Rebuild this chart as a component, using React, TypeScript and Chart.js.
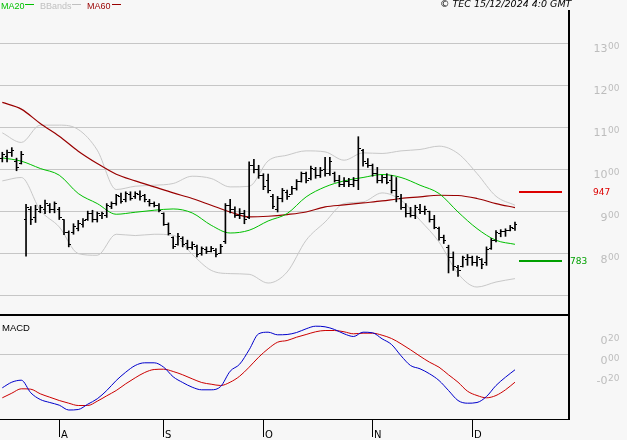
import React, { useEffect, useRef } from 'react';
import { Chart, registerables } from 'chart.js';
Chart.register(...registerables);

// ---- data (daily bars, mid-July .. 13 Dec 2024) ----
const highs = [
  1041, 1046, 1052, 1027, 1043, 917, 912, 915, 915, 927,
  919, 923, 910, 881, 854, 871, 879, 883, 901, 903,
  899, 899, 919, 923, 941, 944, 947, 947, 947, 949,
  941, 929, 923, 919, 897, 873, 840, 848, 840, 832,
  828, 820, 816, 816, 817, 812, 822, 919, 929, 911,
  907, 903, 1018, 1024, 1010, 990, 989, 941, 936, 955,
  951, 960, 976, 994, 994, 1008, 1005, 1005, 1029, 1029,
  994, 986, 981, 979, 981, 1078, 1048, 1026, 1013, 1005,
  986, 990, 986, 981, 941, 919, 910, 915, 917, 913,
  901, 891, 863, 844, 820, 804, 772, 794, 798, 794,
  794, 788, 816, 836, 855, 857, 859, 867, 875,
];
const lows = [
  1018, 1018, 1031, 997, 1013, 794, 869, 874, 897, 895,
  897, 897, 881, 845, 816, 846, 854, 863, 879, 875,
  875, 883, 886, 907, 915, 920, 923, 927, 931, 927,
  923, 913, 911, 899, 867, 844, 812, 820, 816, 810,
  810, 792, 796, 800, 804, 792, 800, 824, 897, 886,
  883, 871, 883, 992, 979, 952, 944, 907, 899, 923,
  929, 941, 951, 970, 968, 975, 979, 981, 984, 986,
  970, 959, 959, 959, 959, 952, 1008, 1005, 984, 968,
  968, 966, 944, 923, 905, 887, 887, 883, 895, 893,
  875, 859, 832, 824, 754, 760, 746, 768, 772, 772,
  770, 764, 772, 810, 828, 840, 841, 854, 855,
];
const opens = [
  1025, 1030, 1040, 1020, 1015, 880, 905, 885, 900, 905,
  915, 905, 905, 880, 850, 850, 860, 870, 880, 895,
  880, 890, 890, 912, 918, 935, 928, 940, 935, 940,
  938, 925, 918, 915, 895, 870, 838, 822, 835, 825,
  815, 818, 800, 810, 806, 808, 800, 828, 915, 905,
  890, 895, 885, 1010, 1000, 985, 975, 935, 905, 930,
  945, 940, 955, 972, 990, 978, 1000, 985, 1000, 990,
  990, 975, 965, 972, 965, 975, 1045, 1015, 1010, 990,
  975, 980, 975, 950, 930, 910, 895, 890, 905, 900,
  900, 880, 860, 838, 815, 790, 768, 770, 785, 790,
  780, 785, 780, 812, 832, 848, 852, 856, 860,
];
const closes = [
  1035, 1040, 1045, 1005, 1035, 910, 880, 905, 910, 920,
  905, 918, 885, 850, 822, 865, 872, 878, 895, 880,
  895, 895, 915, 920, 938, 925, 942, 932, 942, 935,
  928, 918, 915, 902, 870, 848, 818, 840, 822, 815,
  822, 798, 812, 805, 812, 798, 818, 915, 905, 890,
  895, 880, 1010, 1000, 985, 960, 950, 912, 930, 950,
  935, 955, 972, 990, 975, 1002, 985, 998, 990, 1020,
  975, 965, 972, 965, 975, 1050, 1020, 1010, 990, 975,
  980, 970, 950, 935, 910, 895, 890, 910, 900, 905,
  880, 862, 838, 830, 790, 770, 760, 790, 790, 780,
  790, 775, 810, 832, 850, 852, 855, 862, 870,
];

// indicator lines, read every 4 bars
const lineIdx = [0, 4, 8, 12, 16, 20, 24, 28, 32, 36, 40, 44, 48, 52, 56, 60, 64, 68, 72, 76, 80, 84, 88, 92, 96, 100, 104, 108];
const ma20 = [1027.6, 1019.8, 1002.4, 986.4, 942.9, 919, 893.6, 898.3, 903.1, 906.2, 896.7, 867.4, 849, 855.5, 877.6, 895.2, 934.8, 958.6, 972.9, 981, 988.1, 981, 962.6, 942.9, 899, 859.5, 831.7, 822.1];
const ma60 = [1159.5, 1143.6, 1109.5, 1079.3, 1043.6, 1014.3, 988.8, 972.9, 958.6, 944.3, 931, 915, 899, 887.1, 888.8, 892.9, 899, 911, 915.7, 920.5, 925.2, 931, 934.8, 938.8, 938.1, 931, 919, 909.5];
const bbUpper = [1087.1, 1064.3, 1105.5, 1105.5, 1095.2, 1046, 952.4, 960.2, 962.6, 966.7, 984, 978.6, 958.6, 960, 1020.5, 1034, 1044.3, 1041.9, 1022.1, 1039.5, 1038.1, 1044.3, 1047.6, 1055.5, 1038.1, 990.5, 936.4, 915];
const bbLower = [972.9, 981, 903.1, 863.3, 800, 796, 846, 842.9, 846, 843.6, 798.3, 760.2, 752.4, 750.7, 730, 756.2, 831.7, 875.2, 919, 922.9, 944.3, 926.9, 879.3, 827.6, 752.4, 720.5, 732.4, 740.5];

// MACD panel, read every 2 bars
const macdIdx = Array.from({ length: 55 }, (_, k) => k * 2);
const macdLine = [-0.333, -0.277, -0.257, -0.383, -0.45, -0.48, -0.507, -0.555, -0.55, -0.497, -0.443, -0.36, -0.26, -0.177, -0.11, -0.083, -0.083, -0.127, -0.223, -0.28, -0.327, -0.353, -0.353, -0.32, -0.167, -0.097, 0.047, 0.207, 0.223, 0.197, 0.2, 0.22, 0.257, 0.283, 0.277, 0.25, 0.207, 0.18, 0.223, 0.217, 0.157, 0.1, -0.013, -0.11, -0.143, -0.193, -0.26, -0.36, -0.46, -0.487, -0.48, -0.42, -0.31, -0.227, -0.153];
const signalLine = [-0.433, -0.387, -0.343, -0.347, -0.393, -0.427, -0.46, -0.487, -0.51, -0.51, -0.467, -0.413, -0.36, -0.293, -0.233, -0.18, -0.15, -0.147, -0.17, -0.203, -0.243, -0.28, -0.297, -0.31, -0.277, -0.217, -0.127, -0.027, 0.057, 0.123, 0.14, 0.173, 0.2, 0.227, 0.24, 0.24, 0.227, 0.207, 0.213, 0.213, 0.193, 0.16, 0.107, 0.047, -0.017, -0.077, -0.127, -0.203, -0.277, -0.367, -0.41, -0.433, -0.41, -0.353, -0.277];

const monthTickIdx = [12, 34, 55, 78, 99];
const monthLabels = ['A', 'S', 'O', 'N', 'D'];
const priceGrid = [700, 800, 900, 1000, 1100, 1200, 1300];
const priceLabels = [800, 900, 1000, 1100, 1200, 1300];
const macdGrid = [0];
const macdLabels = [0.2, 0, -0.2];
const resistanceLevel = 947;
const supportLevel = 783;
const legendItems = ['MA20', 'BBands', 'MA60'];
const copyrightText = '\u00A9 TEC 15/12/2024 4:0 GMT';

// ---- styles ----
const BG = '#f7f7f7';
const GRID = '#c6c6c6';
const LABEL = '#bdbdbd';
const GREEN = '#00c000';
const DARKRED = '#990000';
const BBCOL = '#c8c8c8';
const X_MIN = -0.485;
const X_MAX = 119.38;

function splitLabel(ctx: CanvasRenderingContext2D, big: string, small: string, right: number, baseY: number) {
  ctx.save();
  ctx.fillStyle = LABEL;
  ctx.textAlign = 'right';
  ctx.textBaseline = 'alphabetic';
  ctx.font = '9px "DejaVu Sans"';
  const ws = ctx.measureText(small).width;
  ctx.fillText(small, right, baseY - 3);
  ctx.font = '11px "DejaVu Sans"';
  ctx.fillText(big, right - ws - 0.5, baseY);
  ctx.restore();
}

const pricePlugin = {
  id: 'pricePanel',
  beforeDraw(chart: any) {
    const { ctx, width, height } = chart;
    ctx.save();
    ctx.fillStyle = BG;
    ctx.fillRect(0, 0, width, height);
    ctx.restore();
  },
  beforeDatasetsDraw(chart: any) {
    const { ctx, chartArea, scales } = chart;
    ctx.save();
    ctx.fillStyle = GRID;
    priceGrid.forEach((v) => {
      const py = Math.round(scales.y.getPixelForValue(v) - 0.5);
      ctx.fillRect(chartArea.left, py, chartArea.right - chartArea.left, 1);
    });
    ctx.restore();
  },
  afterDatasetsDraw(chart: any) {
    const { ctx, scales } = chart;
    ctx.save();
    ctx.fillStyle = '#000';
    for (let i = 0; i < opens.length; i++) {
      const px = Math.round(scales.x.getPixelForValue(i) - 0.5);
      const yo = Math.round(scales.y.getPixelForValue(opens[i]) - 0.5);
      const yc = Math.round(scales.y.getPixelForValue(closes[i]) - 0.5);
      ctx.fillRect(px - 2, yo, 2, 1);
      ctx.fillRect(px + 1, yc, 2, 1);
    }
    ctx.restore();
  },
  afterDraw(chart: any) {
    const { ctx, chartArea, scales } = chart;
    ctx.save();
    // legend
    ctx.font = '9px "Liberation Sans"';
    ctx.textBaseline = 'alphabetic';
    ctx.textAlign = 'left';
    const legCols = [GREEN, '#c0c0c0', DARKRED];
    const legX = [1, 40, 87];
    const lineX = [25, 72, 112];
    legendItems.forEach((t, k) => {
      ctx.fillStyle = legCols[k];
      ctx.fillText(t, legX[k], 9);
      ctx.fillRect(lineX[k], 4, 9, 1);
    });
    // copyright
    ctx.fillStyle = '#000';
    ctx.font = 'italic 9.5px "DejaVu Sans"';
    ctx.fillText(copyrightText, 440, 7);
    // borders
    const rx = Math.round(chartArea.right);
    ctx.fillStyle = '#000';
    ctx.fillRect(rx - 1, Math.round(chartArea.top), 2, chart.height - Math.round(chartArea.top));
    ctx.fillRect(0, 314, rx + 1, 2);
    // right-axis labels
    priceLabels.forEach((v) => {
      const py = scales.y.getPixelForValue(v);
      splitLabel(ctx, String(Math.floor(v / 100)), String(v % 100).padStart(2, '0'), 619.5, py + 9);
    });
    // resistance / support
    const yr = scales.y.getPixelForValue(resistanceLevel);
    const ys = scales.y.getPixelForValue(supportLevel);
    ctx.fillStyle = '#dd0000';
    ctx.fillRect(519, Math.round(yr - 1), 43, 2);
    ctx.fillStyle = '#00a000';
    ctx.fillRect(519, Math.round(ys - 1), 43, 2);
    ctx.font = '9px "DejaVu Sans"';
    ctx.textBaseline = 'middle';
    ctx.fillStyle = '#dd0000';
    ctx.fillText(String(resistanceLevel), 593, yr + 1);
    ctx.fillStyle = '#00a000';
    ctx.fillText(String(supportLevel), 570, ys + 1);
    ctx.restore();
  },
};

const macdPlugin = {
  id: 'macdPanel',
  beforeDraw(chart: any) {
    const { ctx, width, height } = chart;
    ctx.save();
    ctx.fillStyle = BG;
    ctx.fillRect(0, 0, width, height);
    ctx.restore();
  },
  beforeDatasetsDraw(chart: any) {
    const { ctx, chartArea, scales } = chart;
    ctx.save();
    ctx.fillStyle = GRID;
    macdGrid.forEach((v) => {
      const py = Math.round(scales.y.getPixelForValue(v) - 0.5);
      ctx.fillRect(chartArea.left, py, chartArea.right - chartArea.left, 1);
    });
    ctx.restore();
  },
  afterDraw(chart: any) {
    const { ctx, chartArea, scales } = chart;
    ctx.save();
    ctx.fillStyle = '#000';
    ctx.font = '9.5px "Liberation Sans"';
    ctx.textBaseline = 'alphabetic';
    ctx.textAlign = 'left';
    ctx.fillText('MACD', 2, 15);
    // borders
    const rx = Math.round(chartArea.right);
    const by = Math.round(chartArea.bottom);
    ctx.fillRect(rx - 1, 0, 2, by + 1);
    ctx.fillRect(0, by, rx + 1, 1);
    // right labels
    macdLabels.forEach((v) => {
      const parts = Math.abs(v).toFixed(2).split('.');
      const big = (v < 0 ? '-' : '') + parts[0];
      splitLabel(ctx, big, parts[1], 619.5, scales.y.getPixelForValue(v) + 9.5);
    });
    // month ticks
    ctx.fillStyle = '#000';
    ctx.font = '10px "DejaVu Sans"';
    monthTickIdx.forEach((idx, k) => {
      const px = Math.round(scales.x.getPixelForValue(idx) - 0.5);
      ctx.fillRect(px, by + 1, 1, 17);
      ctx.fillText(monthLabels[k], px + 2, by + 18.5);
    });
    ctx.restore();
  },
};

function pts(idx: number[], vals: number[]) {
  return idx.map((x, k) => ({ x, y: vals[k] }));
}

export default function App() {
  const topRef = useRef<HTMLCanvasElement>(null);
  const botRef = useRef<HTMLCanvasElement>(null);

  useEffect(() => {
    const lineDs = (label: string, data: any[], color: string, width: number) => ({
      type: 'line' as const,
      label,
      data,
      borderColor: color,
      borderWidth: width,
      pointRadius: 0,
      fill: false,
      cubicInterpolationMode: 'monotone' as const,
    });

    const priceChart = new Chart(topRef.current as HTMLCanvasElement, {
      type: 'line',
      data: {
        datasets: [
          {
            type: 'bar',
            label: 'HL',
            data: highs.map((h, i) => ({ x: i, y: [lows[i], h] })) as any,
            backgroundColor: '#000',
            borderWidth: 0,
            barThickness: 1,
          } as any,
          lineDs('MA20', pts(lineIdx, ma20), GREEN, 1),
          lineDs('MA60', pts(lineIdx, ma60), DARKRED, 1.2),
          lineDs('BBup', pts(lineIdx, bbUpper), BBCOL, 1),
          lineDs('BBlo', pts(lineIdx, bbLower), BBCOL, 1),
        ],
      },
      options: {
        responsive: false,
        animation: false,
        events: [],
        layout: { padding: { left: 0, right: 58, top: 10, bottom: 1 } },
        plugins: { legend: { display: false }, tooltip: { enabled: false }, title: { display: false } },
        scales: {
          x: { type: 'linear', display: false, min: X_MIN, max: X_MAX, offset: false },
          y: { type: 'linear', display: false, min: 653.97, max: 1379.3 },
        },
      },
      plugins: [pricePlugin],
    });

    const macdChart = new Chart(botRef.current as HTMLCanvasElement, {
      type: 'line',
      data: {
        datasets: [
          lineDs('MACD', pts(macdIdx, macdLine), '#0000cc', 1),
          lineDs('Signal', pts(macdIdx, signalLine), '#cc0000', 1),
        ],
      },
      options: {
        responsive: false,
        animation: false,
        events: [],
        layout: { padding: { left: 0, right: 58, top: 0, bottom: 21 } },
        plugins: { legend: { display: false }, tooltip: { enabled: false }, title: { display: false } },
        scales: {
          x: { type: 'linear', display: false, min: X_MIN, max: X_MAX, offset: false },
          y: { type: 'linear', display: false, min: -0.645, max: 0.385 },
        },
      },
      plugins: [macdPlugin],
    });

    return () => {
      priceChart.destroy();
      macdChart.destroy();
    };
  }, []);

  return (
    <div style={{ position: 'fixed', left: 0, top: 0, width: 627, height: 440, background: BG }}>
      <canvas ref={topRef} width={627} height={316} style={{ position: 'absolute', left: 0, top: 0, width: 627, height: 316 }} />
      <canvas ref={botRef} width={627} height={124} style={{ position: 'absolute', left: 0, top: 316, width: 627, height: 124 }} />
    </div>
  );
}
